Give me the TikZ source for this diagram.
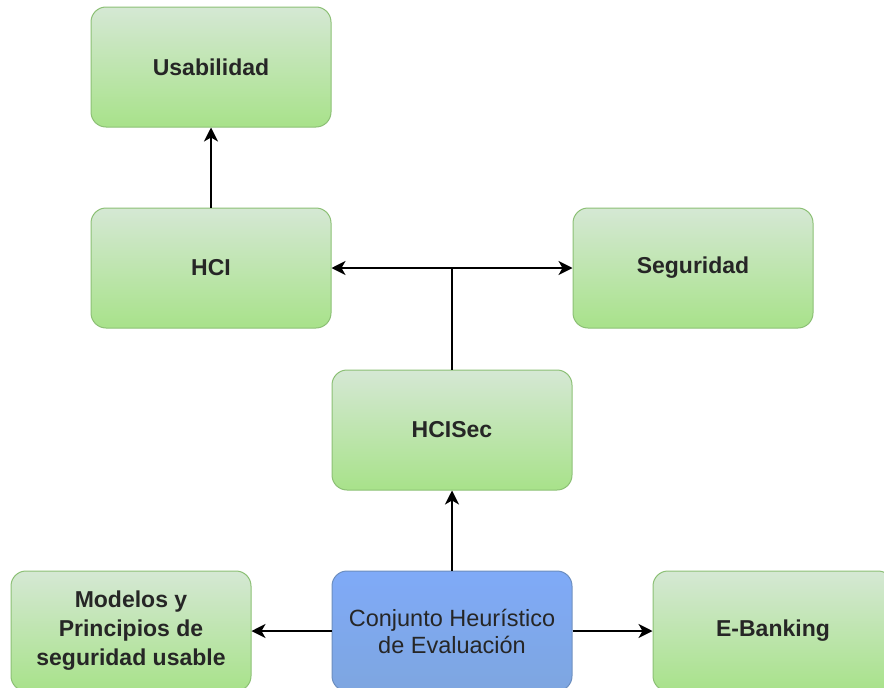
\documentclass[tikz,border=0pt]{standalone}
\usepackage{fontspec}
\setmainfont{Liberation Sans}
\usepackage{tikz}
\usetikzlibrary{arrows.meta,positioning}
\definecolor{grtop}{HTML}{D5E8D4}
\definecolor{grbot}{HTML}{A8E28A}
\definecolor{grline}{HTML}{8CC075}
\definecolor{bltop}{HTML}{7FAAF8}
\definecolor{blbot}{HTML}{7EA6E0}
\definecolor{blline}{HTML}{6C8EBF}
\definecolor{txt}{HTML}{262626}
\tikzstyle{box} = [draw=grline, line width=1pt, top color=grtop, bottom color=grbot, rounded corners=15pt, minimum width=240pt, minimum height=120pt, text centered, text=txt, font=\fontsize{23}{29}\selectfont\bfseries]
\tikzstyle{mainbox} = [box, draw=blline, top color=bltop, bottom color=blbot, font=\fontsize{23.5}{27}\selectfont]
\tikzset{
  line/.style ={draw, line width=1.5pt, -{Stealth[length=14pt,width=14pt,inset=4pt]}}
}

\begin{document}
\begin{tikzpicture}[x=1pt,y=-1pt,node distance=80pt, every node/.style={align=center}]
  \useasboundingbox (0,0) rectangle (884,688);
  \node[mainbox] (conj) at (452,631) {Conjunto Heurístico\\de Evaluación};
  \node[box,left=80pt of conj] (modelos) {Modelos y\\Principios de\\seguridad usable};
  \node[box,right=80pt of conj] (ebanking) {E-Banking};
  \node[box,above=80pt of conj] (hcisec) {HCISec};
  \node[box,above left=41pt and 0pt of hcisec] (hci) {HCI};
  \node[box,above right=41pt and 0pt of hcisec] (seguridad) {Seguridad};
  \node[box,above=80pt of hci] (usabilidad) {Usabilidad};
  \coordinate (junc) at (hcisec.north |- hci.east);

  \begin{scope}[every path/.style=line]
    \path (hci) -- (usabilidad);
    \path (conj) -- (hcisec);
    \path (conj) -- (modelos);
    \path (conj) -- (ebanking);
    \path (junc) -- (hci);
    \path (junc) -- (seguridad);
  \end{scope}
  \draw[line width=1.5pt] (hcisec.north) -- (junc);

\end{tikzpicture}
\end{document}
